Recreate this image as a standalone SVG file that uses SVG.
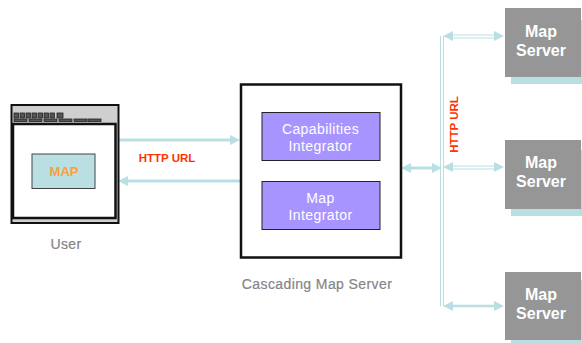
<svg xmlns="http://www.w3.org/2000/svg" width="582" height="343" viewBox="0 0 582 343">
<style>
text{font-family:"Liberation Sans",Arial,sans-serif;text-anchor:middle}
.b{font-weight:bold}
.cap{font-size:14px;fill:#858585;letter-spacing:.4px;stroke:#858585;stroke-width:.2px}
.red{font-size:11.5px;font-weight:bold;fill:#ff3300}
.ms{font-size:16px;font-weight:bold;fill:#fff}
.int{font-size:14px;fill:#fff;letter-spacing:.4px}
.srv{fill:#969696}
.sh{fill:#b9dfe3}
.pur{fill:#a894ff;stroke:#222;stroke-width:1}
.ln{stroke:#b9dfe3;fill:none}
.ah{fill:#b9dfe3}
.t{fill:#555;stroke:#222;stroke-width:.8}
</style>
<rect width="582" height="343" fill="#fff"/>
<g id="connectors">
<path class="ln" stroke-width="3" d="M116 140H232M128 181H241M410 168H434"/>
<polygon class="ah" points="240,140 230,135 230,145"/>
<polygon class="ah" points="118,181 128,176 128,186"/>
<polygon class="ah" points="401,168 411,163 411,173"/>
<polygon class="ah" points="442,168 432,163 432,173"/>
<path class="ln" stroke-width="1" d="M440.500 36V306M443.500 36V306"/>
<path class="ln" stroke-width="1" d="M450 35H496M450 38H496M450 166H496M450 169H496"/>
<path class="ln" stroke-width="2.500" d="M450 306H496"/>
<polygon class="ah" points="443,36 453,31 453,41"/>
<polygon class="ah" points="504,36 494,31 494,41"/>
<polygon class="ah" points="443,167 453,162 453,172"/>
<polygon class="ah" points="504,167 494,162 494,172"/>
<polygon class="ah" points="443,306 453,301 453,311"/>
<polygon class="ah" points="504,306 494,301 494,311"/>
<text class="red" x="167" y="162">HTTP URL</text>
<text class="red" transform="translate(458 124.500) rotate(-90)">HTTP URL</text>
</g>
<g id="user">
<rect x="11.500" y="105" width="107" height="118" fill="#cfcfcf" stroke="#111" stroke-width="2"/>
<rect x="13" y="124" width="102.500" height="94" fill="#fff" stroke="#111" stroke-width="2.500"/>
<g class="t">
<rect x="14" y="113" width="4.500" height="5"/><rect x="20" y="113" width="4.500" height="5"/><rect x="26" y="113" width="4.500" height="5"/><rect x="32" y="113" width="4.500" height="5"/><rect x="38" y="113" width="4.500" height="5"/><rect x="44" y="113" width="4.500" height="5"/><rect x="50" y="113" width="4.500" height="5"/><rect x="57" y="113" width="6" height="5"/>
<rect x="14" y="119" width="13" height="2.500"/><rect x="29" y="119" width="13" height="2.500"/><rect x="44" y="119" width="13" height="2.500"/><rect x="59" y="119" width="13" height="2.500"/><rect x="74" y="119" width="13" height="2.500"/><rect x="88" y="119" width="13" height="2.500"/>
</g>
<rect x="32" y="154" width="63" height="34.500" fill="#b9dfe3" stroke="#444" stroke-width="1"/>
<text class="b" x="64" y="176" font-size="13" fill="#f9a03c">MAP</text>
<text class="cap" x="66" y="249">User</text>
</g>
<g id="cascading-map-server">
<rect x="241" y="84.500" width="160" height="173" fill="#fff" stroke="#111" stroke-width="2.500"/>
<text class="cap" x="317" y="289">Cascading Map Server</text>
</g>
<g id="capabilities-integrator">
<rect class="pur" x="262" y="112.500" width="118" height="48"/>
<text class="int" x="320.500" y="134">Capabilities</text>
<text class="int" x="320.500" y="151">Integrator</text>
</g>
<g id="map-integrator">
<rect class="pur" x="262" y="181.500" width="118" height="48"/>
<text class="int" x="320.500" y="203">Map</text>
<text class="int" x="320.500" y="220">Integrator</text>
</g>
<g id="map-server-1">
<rect class="sh" x="511" y="20" width="71" height="64"/>
<rect class="srv" x="505" y="8" width="76" height="69"/>
<text class="ms" x="541" y="37">Map</text>
<text class="ms" x="541" y="56">Server</text>
</g>
<g id="map-server-2">
<rect class="sh" x="511" y="150" width="71" height="66"/>
<rect class="srv" x="505" y="140" width="76" height="69"/>
<text class="ms" x="541" y="168">Map</text>
<text class="ms" x="541" y="187">Server</text>
</g>
<g id="map-server-3">
<rect class="sh" x="511" y="280" width="71" height="63"/>
<rect class="srv" x="505" y="272" width="76" height="68"/>
<text class="ms" x="541" y="300">Map</text>
<text class="ms" x="541" y="319">Server</text>
</g>
</svg>
